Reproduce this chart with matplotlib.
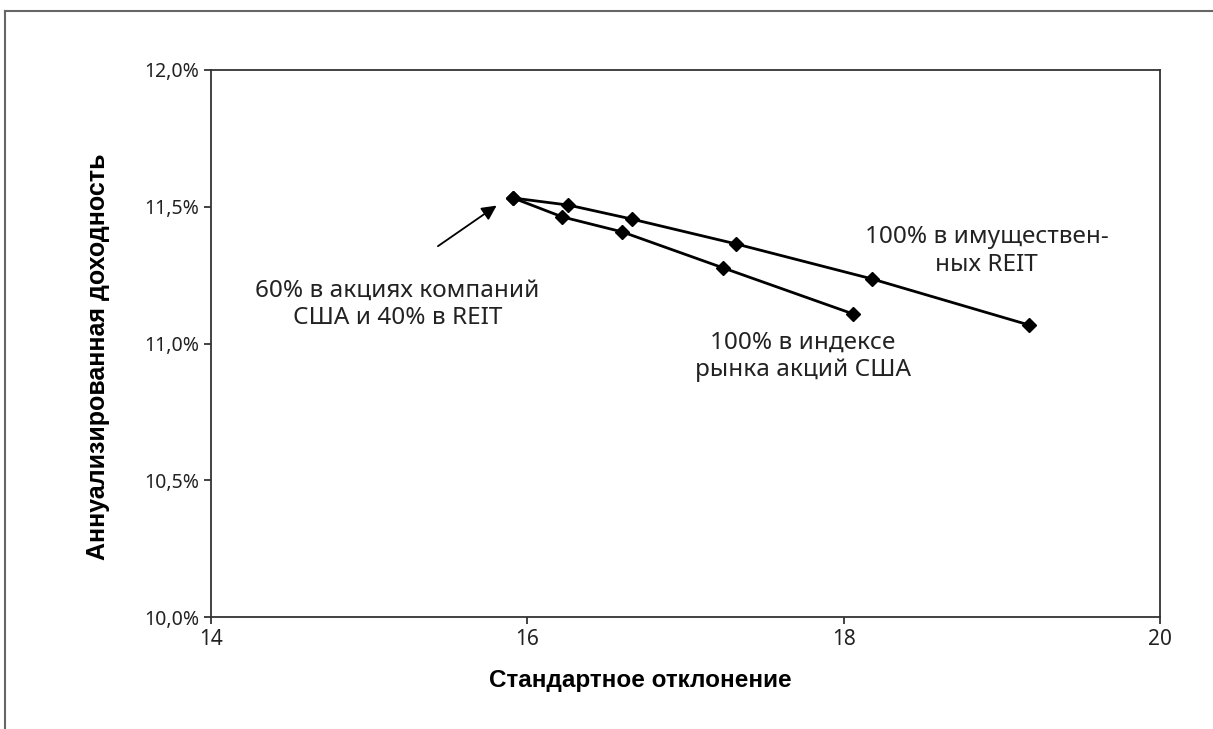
import matplotlib
matplotlib.use("Agg")
import matplotlib.pyplot as plt
from matplotlib.ticker import FuncFormatter
from matplotlib.lines import Line2D

# portfolio mixes: US stocks + REIT
reit_sd = [15.91, 16.26, 16.66, 17.32, 18.18, 19.17]
reit_ret = [11.532, 11.506, 11.455, 11.364, 11.236, 11.068]

stock_sd = [15.91, 16.22, 16.60, 17.24, 18.06]
stock_ret = [11.532, 11.463, 11.408, 11.276, 11.108]

x_ticks = [14, 16, 18, 20]
y_ticks = [10.0, 10.5, 11.0, 11.5, 12.0]

plt.rcParams['font.family'] = ['Noto Sans', 'DejaVu Sans']

fig = plt.figure(figsize=(12.13, 7.29), dpi=100)
ax = fig.add_axes([0.174, 0.1536, 0.7823, 0.7504])

ax.plot(reit_sd, reit_ret, color="black", lw=2.0, marker="D", markersize=7)
ax.plot(stock_sd, stock_ret, color="black", lw=2.0, marker="D", markersize=7)

ax.set_xlim(14, 20)
ax.set_ylim(10, 12)
ax.set_xticks(x_ticks)
ax.set_yticks(y_ticks)
ax.yaxis.set_major_formatter(FuncFormatter(lambda v, p: f"{v:.1f}%".replace(".", ",")))
ax.tick_params(direction="out", length=5, width=1.2, labelsize=14, colors="#222222")
ax.tick_params(axis="x", labelsize=15)
for s in ax.spines.values():
    s.set_linewidth(1.3)
    s.set_color("#333333")

bold = ['Liberation Sans', 'DejaVu Sans']
ax.set_xlabel("Стандартное отклонение", fontsize=17.5, fontweight="bold", family=bold)
ax.set_ylabel("Аннуализированная доходность", fontsize=18, fontweight="bold", family=bold)
ax.xaxis.set_label_coords(0.452, -0.095)
ax.yaxis.set_label_coords(-0.106, 0.475)

ax.annotate("", xy=(15.82, 11.51), xytext=(15.42, 11.35),
            arrowprops=dict(arrowstyle="-|>", color="black", lw=1.3,
                            mutation_scale=22))
ax.text(15.18, 11.144, "60% в акциях компаний\nСША и 40% в REIT",
        ha="center", va="center", fontsize=17.5, color="#222222", linespacing=1.2)
ax.text(18.905, 11.338, "100% в имуществен-\nных REIT",
        ha="center", va="center", fontsize=17.5, color="#222222", linespacing=1.2)
ax.text(17.74, 10.954, "100% в индексе\nрынка акций США",
        ha="center", va="center", fontsize=17.5, color="#222222", linespacing=1.2)

# outer frame lines (top and left)
fig.add_artist(Line2D([0.004, 1.0], [0.985, 0.985], color="#666666", lw=1.5))
fig.add_artist(Line2D([0.004, 0.004], [0.0, 0.985], color="#666666", lw=1.5))

fig.savefig("out.png", dpi=100)
